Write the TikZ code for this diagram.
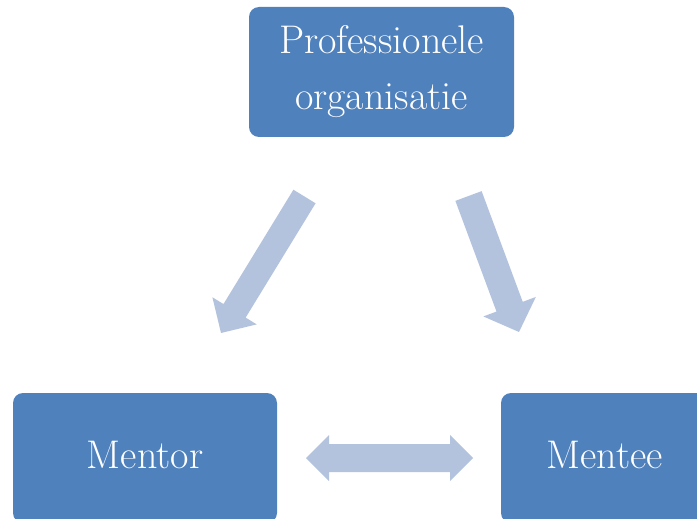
\documentclass[tikz,border=0pt]{standalone}
\usepackage{fontspec}
\usetikzlibrary{calc}
\definecolor{boxblue}{RGB}{79,129,189}
\definecolor{arrowblue}{RGB}{179,195,221}
\tikzset{
  box/.style={fill=boxblue, draw=none, rounded corners=10pt, text=white,
    inner sep=0pt, align=center, font=\fontsize{40}{56}\selectfont},
  arrowfill/.style={fill=arrowblue, draw=none}
}
% #1 tail, #2 tip, #3 shaft half width, #4 head half width, #5 head length
\newcommand\myblockarrow[5]{%
  \coordinate (#1-b) at ($(#2)!#5!(#1)$);
  \fill[arrowfill] ($(#1)!#3!90:(#2)$) -- ($(#1-b)!#3!90:(#2)$) -- ($(#1-b)!#4!90:(#2)$)
    -- (#2) -- ($(#1-b)!#4!-90:(#2)$) -- ($(#1-b)!#3!-90:(#2)$) -- ($(#1)!#3!-90:(#2)$) -- cycle;}
% #1 left tip, #2 right tip, #3 shaft half, #4 head half, #5 head length
\newcommand\mydoublearrow[5]{%
  \coordinate (#1-b) at ($(#1)!#5!(#2)$);
  \coordinate (#2-b) at ($(#2)!#5!(#1)$);
  \fill[arrowfill] (#1) -- ($(#1-b)!#4!90:(#2)$) -- ($(#1-b)!#3!90:(#2)$)
    -- ($(#2-b)!#3!-90:(#1)$) -- ($(#2-b)!#4!-90:(#1)$) -- (#2)
    -- ($(#2-b)!#4!90:(#1)$) -- ($(#2-b)!#3!90:(#1)$)
    -- ($(#1-b)!#3!-90:(#2)$) -- ($(#1-b)!#4!-90:(#2)$) -- cycle;}
\begin{document}
\begin{tikzpicture}[x=1pt,y=-1pt]
  \useasboundingbox (0,0) rectangle (697,519);
  \clip (0,0) rectangle (697,519);
  \node[box, minimum width=265pt, minimum height=130pt] (org) at (381.5,72)
    {Professionele\\organisatie};
  \node[box, minimum width=264pt, minimum height=130pt, text depth=6pt] (mentor) at (145,458) {Mentor};
  \node[box, minimum width=207pt, minimum height=130pt, text depth=6pt] (mentee) at (604.5,458) {Mentee};
  % arrows
  \coordinate (lt) at (304.5,196.5);
  \coordinate (lp) at (221,333);
  \myblockarrow{lt}{lp}{13pt}{26pt}{26pt}
  \coordinate (rt) at (468.5,196);
  \coordinate (rp) at (519,332);
  \myblockarrow{rt}{rp}{14pt}{28pt}{27pt}
  \coordinate (dl) at (306,458);
  \coordinate (dr) at (473,458);
  \mydoublearrow{dl}{dr}{14pt}{23pt}{23pt}
\end{tikzpicture}
\end{document}
